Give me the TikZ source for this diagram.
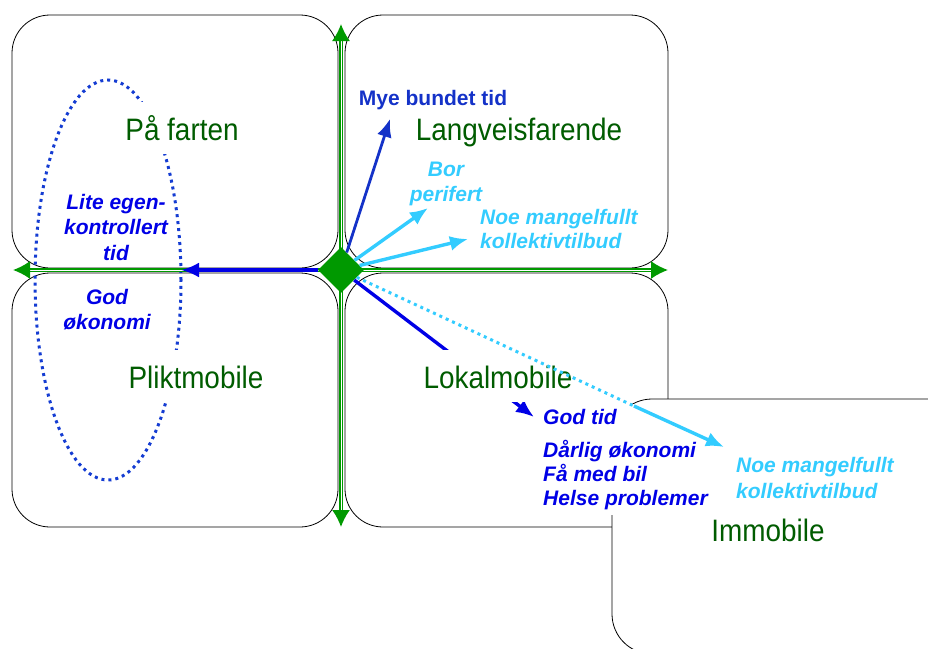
\documentclass[tikz,border=0pt]{standalone}
\usepackage{fontspec}
\setmainfont{Liberation Sans}
\newfontfamily\narrowsans{Liberation Sans}[FakeStretch=0.9]
\usetikzlibrary{shapes.geometric, arrows.meta}
\definecolor{labelgreen}{HTML}{005C00}
\definecolor{axisgreen}{HTML}{009900}
\definecolor{noteblue}{HTML}{0000E6}
\definecolor{darkblue}{HTML}{1432C8}
\definecolor{lightblue}{HTML}{33CCFF}
\definecolor{ringblue}{HTML}{143CD2}
\tikzset{
  % Quadrant boxes
  quad/.style={draw, line width=0.8pt, rounded corners=38pt},
  % Group labels
  zone/.style={fill=white, text=labelgreen,
    font=\narrowsans\fontsize{31}{36}\selectfont, text height=26pt,
    text depth=2pt, inner xsep=2pt, inner ysep=12pt},
  % Notes
  note/.style={font=\bfseries\itshape\fontsize{21}{25}\selectfont,
    inner sep=0pt},
  % Axes
  axis/.style={draw=axisgreen, line width=1.8pt, double=white,
    double distance=1pt,
    {Latex[length=17pt,width=18pt]}-{Latex[length=17pt,width=18pt]}},
  % Centre
  hub/.style={shape=diamond, fill=axisgreen, minimum width=46pt,
    minimum height=46pt, inner sep=0pt},
  % Arrows
  fact/.style={-{Latex[length=18pt,width=15pt]}, line width=3.4pt},
  dots/.style={line width=3pt, dash pattern=on 3pt off 4pt},
}
\begin{document}
\begin{tikzpicture}[x=1pt, y=-1pt]
  \useasboundingbox (0,0) rectangle (928,648);

  \draw[quad] (12,15) rectangle (338,268);
  \draw[quad] (345,15) rectangle (668,268);
  \draw[quad] (12,273) rectangle (338,527);
  \draw[quad] (345,273) rectangle (668,527);
  \begin{scope}
    \clip (0,0) rectangle (928,648);
    \draw[quad, rounded corners=40pt, fill=white] (612,399) rectangle (970,654);
  \end{scope}

  \draw[dots, ringblue] (108,280) ellipse [x radius=73pt, y radius=200pt];

  \coordinate (north) at (341,24);
  \coordinate (south) at (341,527);
  \coordinate (west) at (13,270);
  \coordinate (east) at (668,270);
  \draw[axis] (west) -- (east);
  \draw[axis] (north) -- (south);
  \node[hub] (hub) at (341,270) {};

  \coordinate (tipbusy) at (390,119);
  \coordinate (tipedge) at (428,208);
  \coordinate (tiptransit) at (468,239);
  \coordinate (tipleft) at (181,270);
  \coordinate (tiplocal) at (534,417);
  \draw[fact, line width=2.8pt, darkblue] (hub) -- (tipbusy);
  \draw[fact, lightblue] (hub) -- (tipedge);
  \draw[fact, lightblue] (hub) -- (tiptransit);
  \draw[fact, noteblue] (hub) -- (tipleft);
  \draw[fact, noteblue] (hub) -- (tiplocal);

  \node[zone] (farten) at (182,128) {På farten};
  \node[zone] (langveis) at (519,128) {Langveisfarende};
  \node[zone] (plikt) at (196,376) {Pliktmobile};
  \node[zone] (lokal) at (498,376) {Lokalmobile};
  \node[zone] (immobile) at (768,529) {Immobile};

  \node[note, font=\bfseries\itshape\fontsize{21}{24}\selectfont,
    text=noteblue, fill=white, inner sep=5pt, align=left,
    anchor=north west] (lokalnotes) at (538,404)
    {God tid\\[9pt]Dårlig økonomi\\Få med bil\\Helse problemer};

  \coordinate (bend) at (634,406);
  \coordinate (tipimmo) at (724,447);
  \draw[dots, lightblue] (hub) -- (bend);
  \draw[fact, lightblue] (bend) -- (tipimmo);

  \node[note, font=\bfseries\fontsize{21}{25}\selectfont, text=darkblue,
    anchor=base] (busy) at (433,105) {Mye bundet tid};
  \node[note, text=lightblue, align=center] (edge) at (446,183.5)
    {Bor\\perifert};
  \node[note, font=\bfseries\itshape\fontsize{21}{24}\selectfont,
    text=lightblue, align=left, anchor=west] (transit) at (480,229)
    {Noe mangelfullt\\kollektivtilbud};
  \node[note, font=\bfseries\itshape\fontsize{21}{26}\selectfont,
    text=lightblue, align=left, anchor=west] (transitimmo) at (736,477.5)
    {Noe mangelfullt\\kollektivtilbud};
  \node[note, font=\bfseries\itshape\fontsize{21}{25.5}\selectfont,
    text=noteblue, align=center] (selfctrl) at (116,227)
    {Lite egen-\\kontrollert\\tid};
  \node[note, text=noteblue, align=center] (wealth) at (107,310)
    {God\\økonomi};
\end{tikzpicture}
\end{document}
